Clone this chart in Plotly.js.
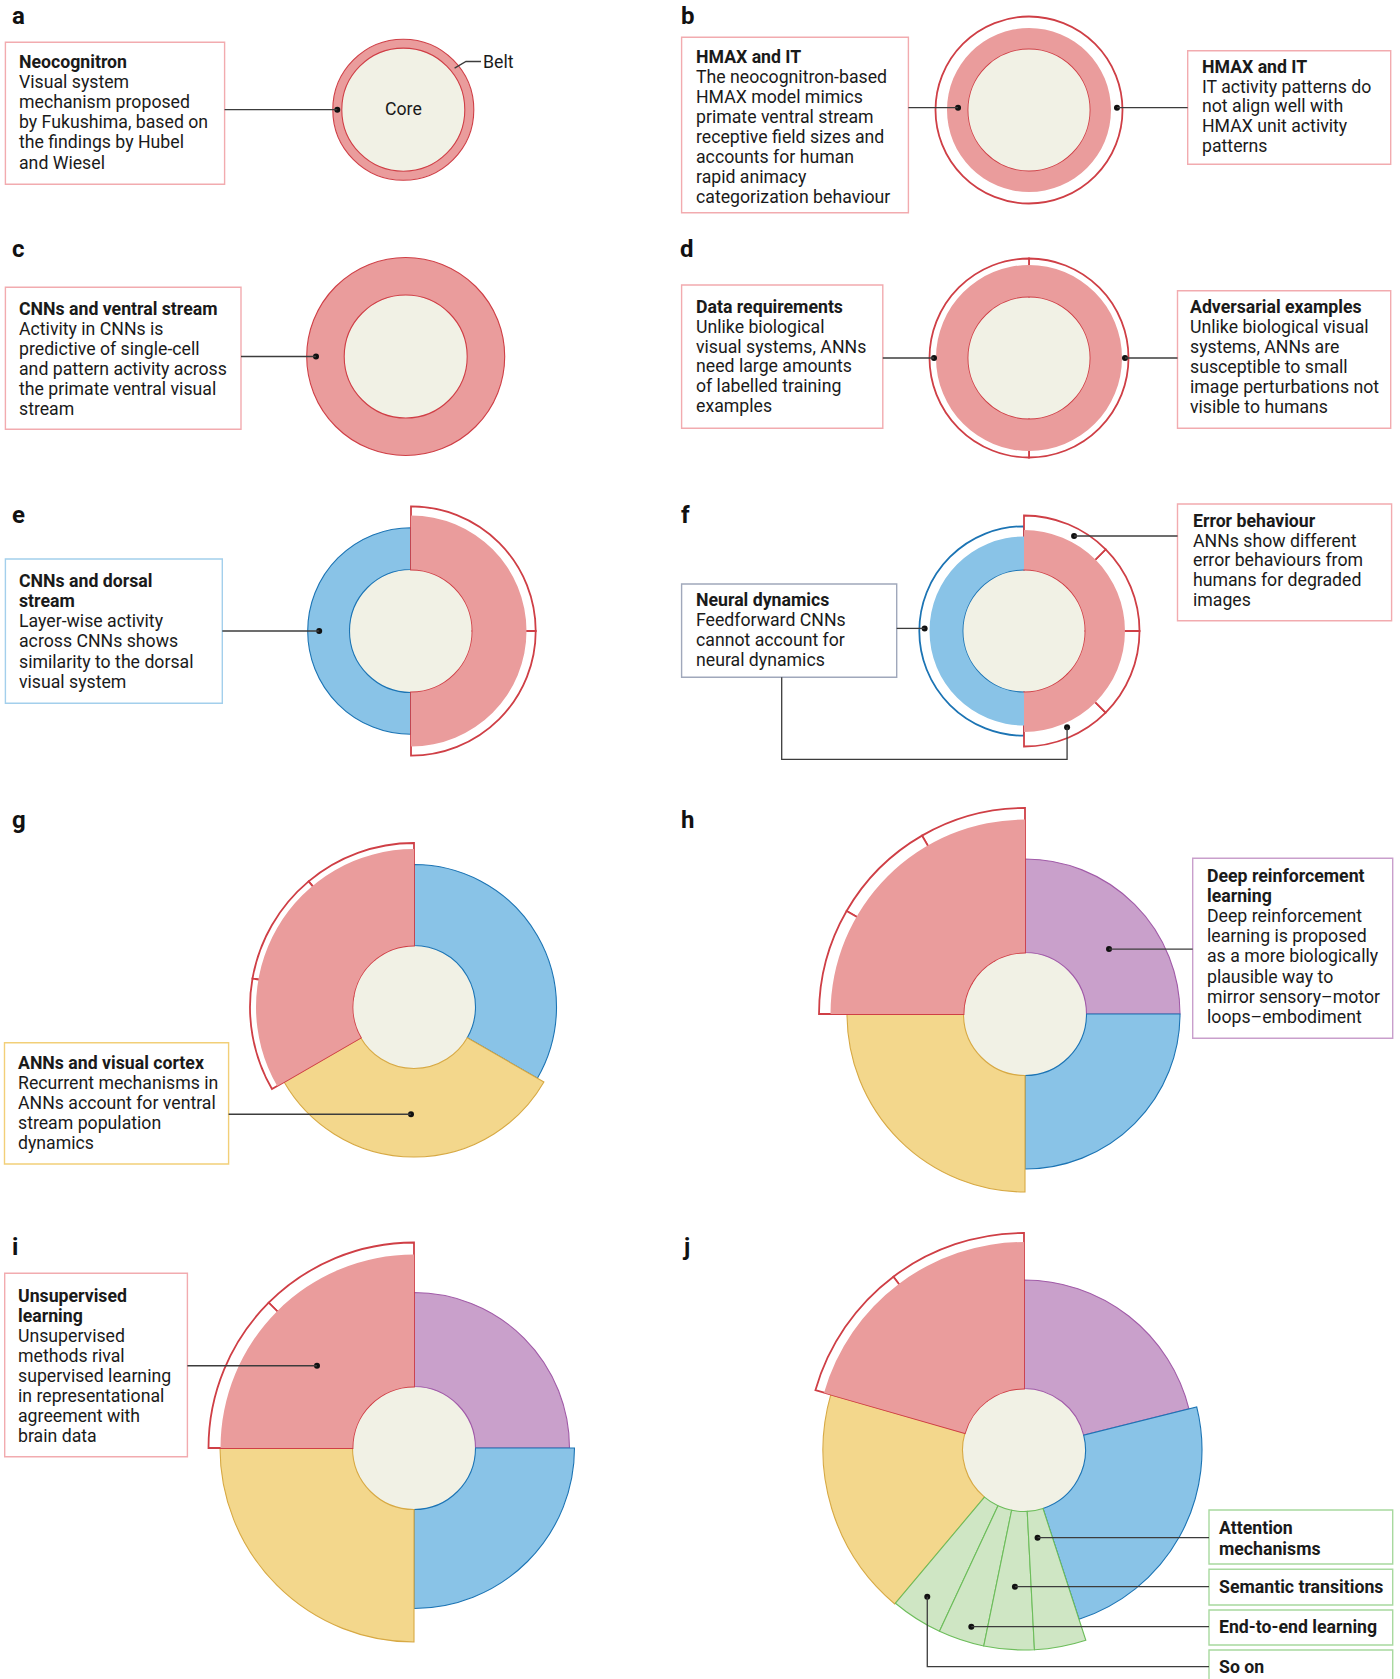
<!DOCTYPE html>
<html><head><meta charset="utf-8">
<script src="https://cdn.plot.ly/plotly-3.0.1.min.js"></script>
<style>html,body{margin:0;padding:0;background:#fff}</style>
</head><body>
<div id="chart" style="width:1400px;height:1679px"></div>
<script>
const W = 1400, H = 1679;

// ---------- colours ----------
const fillCol = {red:'#ea9c9c', blue:'#89c3e7', yellow:'#f3d78c', purple:'#c9a0cb', green:'#cfe6c4'};
const lineCol = {red:'#cf3f46', blue:'#1c74b4', yellow:'#d7a944', purple:'#a15ba8', green:'#6dbd5b'};
const boxCol  = {red:'#f2abaf', blue:'#a3cfec', grey:'#a0a8bb', yellow:'#f2cf78', purple:'#c99fcc', green:'#a8d99f'};
const coreFill = '#f1f1e5';
const coreRadius = 61.5;

// ---------- data: segments [from°, to°, outer radius, hue, bracketed] ----------
const segmentsA = [[0, 360, 70.5, 'red', 0]];
const segmentsB = [[0, 360, 82, 'red', 1]];
const segmentsC = [[0, 360, 99, 'red', 0]];
const segmentsD = [[0, 360, 93, 'red', 1]];
const segmentsE = [[90, 270, 103.3, 'blue', 0], [-90, 90, 115.5, 'red', 1]];
const segmentsF = [[90, 270, 94.5, 'blue', 1], [-90, 90, 101, 'red', 1]];
const segmentsG = [[-30, 90, 142.5, 'blue', 0], [210, 330, 150, 'yellow', 0], [90, 210, 158, 'red', 1]];
const segmentsH = [[0, 90, 155, 'purple', 0], [270, 360, 155, 'blue', 0], [180, 270, 178, 'yellow', 0], [90, 180, 194.5, 'red', 1]];
const segmentsI = [[0, 90, 155.5, 'purple', 0], [270, 360, 160.5, 'blue', 0], [180, 270, 194, 'yellow', 0], [90, 180, 193.5, 'red', 1]];
const segmentsJ = [[14, 90, 170, 'purple', 0], [-72, 14, 178, 'blue', 0], [164, 230, 201, 'yellow', 0],
                   [230, 245, 200, 'green', 0], [245, 258.4, 200, 'green', 0], [258.4, 273, 200, 'green', 0], [273, 288, 200, 'green', 0],
                   [90, 164, 208, 'red', 1]];

// brackets [from°, to°, outer radius, hue]
const bracketsA = [];
const bracketsB = [[0, 360, 93.5, 'red']];
const bracketsC = [];
const bracketsD = [[-90, 90, 99.5, 'red'], [90, 270, 99.5, 'red']];
const bracketsE = [[-90, 0, 124.7, 'red'], [0, 90, 124.7, 'red']];
const bracketsF = [[90, 270, 104.7, 'blue'], [-90, -45, 115.5, 'red'], [-45, 0, 115.5, 'red'], [0, 45, 115.5, 'red'], [45, 90, 115.5, 'red']];
const bracketsG = [[90, 130, 164, 'red'], [130, 170, 164, 'red'], [170, 210, 164, 'red']];
const bracketsH = [[90, 120, 206, 'red'], [120, 150, 206, 'red'], [150, 180, 206, 'red']];
const bracketsI = [[90, 135, 205.5, 'red'], [135, 180, 205.5, 'red']];
const bracketsJ = [[90, 127, 217, 'red'], [127, 164, 217, 'red']];

// callout dots [radius, angle°]
const dotsA = [[66, 180]];
const dotsB = [[71, 178.1], [88, 1.5]];
const dotsC = [[89.7, 180]];
const dotsD = [[95, 180], [96, 0]];
const dotsE = [[91.8, 180]];
const dotsF = [[99.4, 178.5], [107.4, 62.2], [105.5, -65.9]];
const dotsG = [[107.3, -91.6]];
const dotsH = [[106.2, 37.7]];
const dotsI = [[127.2, 139.7]];
const dotsJ = [[88.7, -81.2], [137, -93.8], [184.4, -106.6], [175.7, -123.4]];

// ---------- panel placement (px) ----------
const panels = [
  {id:'a', c:[403.3, 109.7], segs:segmentsA, br:bracketsA, dots:dotsA},
  {id:'b', c:[1029, 110],    segs:segmentsB, br:bracketsB, dots:dotsB},
  {id:'c', c:[405.7, 356.5], segs:segmentsC, br:bracketsC, dots:dotsC},
  {id:'d', c:[1029, 358],    segs:segmentsD, br:bracketsD, dots:dotsD},
  {id:'e', c:[411, 631],     segs:segmentsE, br:bracketsE, dots:dotsE},
  {id:'f', c:[1024, 631],    segs:segmentsF, br:bracketsF, dots:dotsF},
  {id:'g', c:[414, 1007],    segs:segmentsG, br:bracketsG, dots:dotsG},
  {id:'h', c:[1025, 1014],   segs:segmentsH, br:bracketsH, dots:dotsH},
  {id:'i', c:[414, 1448],    segs:segmentsI, br:bracketsI, dots:dotsI},
  {id:'j', c:[1024, 1450],   segs:segmentsJ, br:bracketsJ, dots:dotsJ}
];

const traces = [];
const layout = {
  width: W, height: H, margin:{l:0, r:0, t:0, b:0},
  paper_bgcolor:'#ffffff', plot_bgcolor:'#ffffff', showlegend:false,
  shapes:[], annotations:[]
};
const PX = x => x / W;
const PY = y => 1 - y / H;
const dotPx = {};

panels.forEach((p, k) => {
  const sp = k === 0 ? 'polar' : 'polar' + (k + 1);
  const [cx, cy] = p.c;
  const Rmax = Math.max(...p.segs.map(s => s[2]), ...p.br.map(b => b[2])) + 4;
  layout[sp] = {
    domain:{x:[(cx - Rmax) / W, (cx + Rmax) / W], y:[1 - (cy + Rmax) / H, 1 - (cy - Rmax) / H]},
    bgcolor:'rgba(0,0,0,0)', barmode:'overlay', hole:0,
    radialaxis:{visible:false, range:[0, Rmax], showgrid:false, showline:false, showticklabels:false, ticks:''},
    angularaxis:{visible:false, rotation:0, direction:'counterclockwise', showgrid:false, showline:false, showticklabels:false, ticks:''}
  };
  const bar = (from, to, rOut, fill, line, lw) => ({
    type:'barpolar', subplot:sp, theta:[(from + to) / 2], width:[to - from],
    base:[coreRadius], r:[rOut - coreRadius],
    marker:{color:fill, line:{color:line, width:lw}}, hoverinfo:'skip', showlegend:false
  });
  // core disk
  traces.push({type:'barpolar', subplot:sp, theta:[0], width:[360], base:[0], r:[coreRadius],
    marker:{color:coreFill, line:{width:0}}, hoverinfo:'skip', showlegend:false});
  // plain segments
  p.segs.filter(s => !s[4]).forEach(s => traces.push(bar(s[0], s[1], s[2], fillCol[s[3]], lineCol[s[3]], 1.1)));
  // brackets
  p.br.forEach(b => traces.push(bar(b[0], b[1], b[2], '#ffffff', lineCol[b[3]], 1.8)));
  // bracketed fills
  p.segs.filter(s => s[4]).forEach(s => traces.push(bar(s[0], s[1], s[2], fillCol[s[3]], fillCol[s[3]], 0)));
  // dots
  if (p.dots.length) {
    traces.push({type:'scatterpolar', subplot:sp, mode:'markers', r:p.dots.map(d => d[0]), theta:p.dots.map(d => d[1]),
      marker:{size:6, color:'#111111'}, hoverinfo:'skip', showlegend:false, cliponaxis:false});
  }
  dotPx[p.id] = p.dots.map(d => {
    const a = d[1] * Math.PI / 180;
    return [cx + d[0] * Math.cos(a), cy - d[0] * Math.sin(a)];
  });
});

// ---------- boxes [x0, y0, x1, y1, hue] ----------
const boxes = [
  [5.4, 42.3, 224.6, 184.3, 'red'],
  [681.6, 37.3, 908.4, 212.7, 'red'],
  [1187.7, 50.7, 1390.7, 164.3, 'red'],
  [5.4, 287.3, 241, 429.3, 'red'],
  [681.6, 285, 882.8, 428.3, 'red'],
  [1177.5, 290.7, 1390.7, 428.3, 'red'],
  [5.4, 559, 222.3, 703.3, 'blue'],
  [681.6, 584, 896.7, 677.3, 'grey'],
  [1177.5, 504, 1391.6, 620.7, 'red'],
  [4.5, 1042.7, 228.6, 1164, 'yellow'],
  [1192.7, 858.3, 1392.7, 1038.3, 'purple'],
  [4.7, 1273.3, 187.4, 1456.7, 'red'],
  [1209, 1510, 1392.7, 1564, 'green'],
  [1209, 1569.3, 1392.7, 1605, 'green'],
  [1209, 1610, 1392.7, 1645, 'green'],
  [1209, 1650, 1392.7, 1692, 'green']
];
boxes.forEach(b => layout.shapes.push({type:'rect', xref:'paper', yref:'paper', layer:'above',
  x0:PX(b[0]), x1:PX(b[2]), y0:PY(b[1]), y1:PY(b[3]), line:{color:boxCol[b[4]], width:1.4}, fillcolor:'rgba(0,0,0,0)'}));

// ---------- connectors ----------
const lineStyle = {color:'#3c3c3c', width:1.3};
function poly(pts) {
  const d = pts.map((q, i) => (i ? 'L' : 'M') + PX(q[0]) + ',' + PY(q[1])).join(' ');
  layout.shapes.push({type:'path', xref:'paper', yref:'paper', layer:'above', path:d, line:lineStyle});
}
const hz = (dot, x) => poly([[x, dot[1]], [dot[0], dot[1]]]);
hz(dotPx.a[0], 224.6);
hz(dotPx.b[0], 908.4); hz(dotPx.b[1], 1187.7);
hz(dotPx.c[0], 241);
hz(dotPx.d[0], 882.8); hz(dotPx.d[1], 1177.5);
hz(dotPx.e[0], 222.3);
hz(dotPx.f[0], 896.7); hz(dotPx.f[1], 1177.5);
poly([[781.7, 677.3], [781.7, 759.3], [dotPx.f[2][0], 759.3], dotPx.f[2]]);
hz(dotPx.g[0], 228.6);
hz(dotPx.h[0], 1192.7);
hz(dotPx.i[0], 187.4);
hz(dotPx.j[0], 1209); hz(dotPx.j[1], 1209); hz(dotPx.j[2], 1209);
poly([dotPx.j[3], [dotPx.j[3][0], 1666.7], [1209, 1666.7]]);
// belt leader
(function(){
  const a = 39 * Math.PI / 180, c = panels[0].c;
  poly([[c[0] + 66 * Math.cos(a), c[1] - 66 * Math.sin(a)], [466, 61.5], [481, 61.5]]);
})();

// ---------- texts ----------
const FONT = 'Roboto, "Liberation Sans", Arial, sans-serif';
const TXT = '#1a1a1a';
const FS = 17.7;
function txt(x, y, s, size, opts) {
  layout.annotations.push(Object.assign({xref:'paper', yref:'paper', x:PX(x), y:PY(y), text:s, showarrow:false,
    xanchor:'left', yanchor:'middle', borderpad:0, font:{family:FONT, size:size || FS, color:TXT}}, opts || {}));
}
function block(x, y0, pitch, lines) {
  lines.forEach((l, i) => txt(x - 0.5, y0 + i * pitch, l));
}
const textA = ['<b>Neocognitron</b>', 'Visual system', 'mechanism proposed', 'by Fukushima, based on', 'the findings by Hubel', 'and Wiesel'];
const textB1 = ['<b>HMAX and IT</b>', 'The neocognitron-based', 'HMAX model mimics', 'primate ventral stream', 'receptive field sizes and', 'accounts for human', 'rapid animacy', 'categorization behaviour'];
const textB2 = ['<b>HMAX and IT</b>', 'IT activity patterns do', 'not align well with', 'HMAX unit activity', 'patterns'];
const textC = ['<b>CNNs and ventral stream</b>', 'Activity in CNNs is', 'predictive of single-cell', 'and pattern activity across', 'the primate ventral visual', 'stream'];
const textD1 = ['<b>Data requirements</b>', 'Unlike biological', 'visual systems, ANNs', 'need large amounts', 'of labelled training', 'examples'];
const textD2 = ['<b>Adversarial examples</b>', 'Unlike biological visual', 'systems, ANNs are', 'susceptible to small', 'image perturbations not', 'visible to humans'];
const textE = ['<b>CNNs and dorsal</b>', '<b>stream</b>', 'Layer-wise activity', 'across CNNs shows', 'similarity to the dorsal', 'visual system'];
const textF1 = ['<b>Neural dynamics</b>', 'Feedforward CNNs', 'cannot account for', 'neural dynamics'];
const textF2 = ['<b>Error behaviour</b>', 'ANNs show different', 'error behaviours from', 'humans for degraded', 'images'];
const textG = ['<b>ANNs and visual cortex</b>', 'Recurrent mechanisms in', 'ANNs account for ventral', 'stream population', 'dynamics'];
const textH = ['<b>Deep reinforcement</b>', '<b>learning</b>', 'Deep reinforcement', 'learning is proposed', 'as a more biologically', 'plausible way to', 'mirror sensory–motor', 'loops–embodiment'];
const textI = ['<b>Unsupervised</b>', '<b>learning</b>', 'Unsupervised', 'methods rival', 'supervised learning', 'in representational', 'agreement with', 'brain data'];
const textJ1 = ['<b>Attention</b>', '<b>mechanisms</b>'];
const textJ2 = ['<b>Semantic transitions</b>'];
const textJ3 = ['<b>End-to-end learning</b>'];
const textJ4 = ['<b>So on</b>'];

block(18.75, 62.3, 20.05, textA);
block(695.6, 56.7, 20, textB1);
block(1201.7, 66.7, 19.85, textB2);
block(18.75, 308.8, 20.05, textC);
block(695.6, 306.7, 19.9, textD1);
block(1189, 307.3, 20, textD2);
block(18.75, 580.5, 20.25, textE);
block(695.6, 600, 20, textF1);
block(1192, 520.7, 19.85, textF2);
block(17.9, 1063.3, 20, textG);
block(1206, 876, 20.1, textH);
block(17.8, 1295.5, 20.1, textI);
block(1218, 1528.3, 21, textJ1);
block(1218, 1586.7, 20, textJ2);
block(1218, 1626.7, 20, textJ3);
block(1218, 1666.7, 20, textJ4);

txt(403.3, 109.5, 'Core', FS, {xanchor:'center'});
txt(482, 62.3, 'Belt', FS);

// panel letters
const letters = [['a', 11, 15.5], ['b', 680, 15.5], ['c', 11, 249.5], ['d', 679, 249.5], ['e', 11, 514.5], ['f', 680, 514.5],
                 ['g', 11, 819.5], ['h', 680, 819.5], ['i', 11, 1246.5], ['j', 681, 1246.5]];
letters.forEach(l => txt(l[1], l[2], '<b>' + l[0] + '</b>', 24, {font:{family:'Roboto, Arial, sans-serif', size:24, color:'#111', weight:900}}));

Plotly.newPlot('chart', traces, layout, {staticPlot:true, displayModeBar:false});
</script>
</body></html>
